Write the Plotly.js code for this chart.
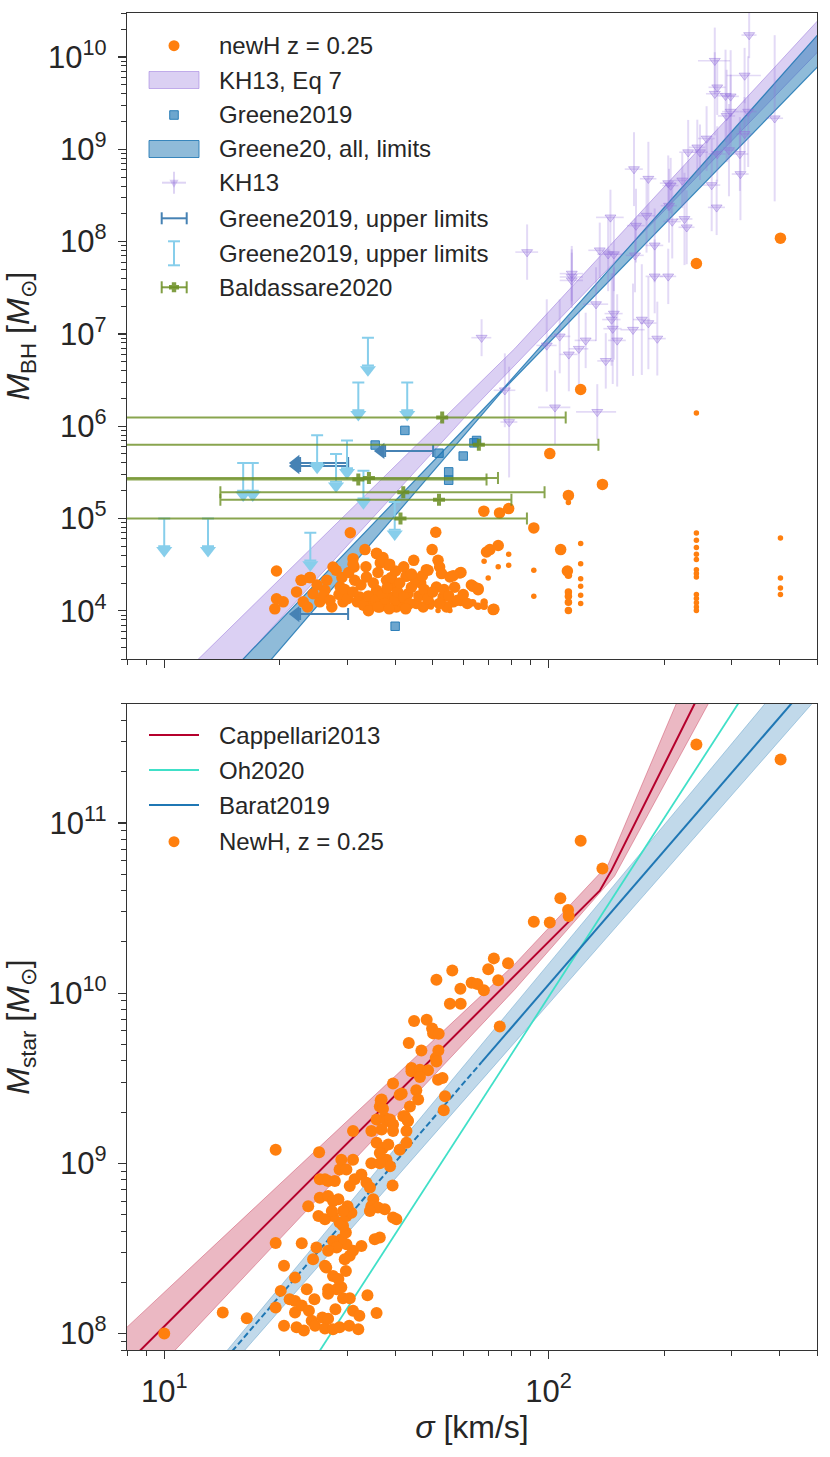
<!DOCTYPE html>
<html><head><meta charset="utf-8">
<script src="https://cdn.plot.ly/plotly-3.0.1.min.js"></script>
<style>body{margin:0;background:#fff}#chart{width:830px;height:1457px}</style>
</head><body><div id="chart"></div>
<script>
// ---------------- TOP PANEL DATA ----------------
const kh7_up_sigma = [10, 81.7, 520];
const kh7_up_M     = [1.3e3, 6.93e6, 2.9e10];
const kh7_lo_sigma = [14, 62.4, 520];
const kh7_lo_M     = [1.6e3, 1.43e6, 1.32e10];
const g20_up_sigma = [14, 76.9, 520];
const g20_up_M     = [1.66e3, 2.66e6, 2.05e10];
const g20_lo_sigma = [17, 76.9, 520];
const g20_lo_M     = [1.74e3, 2.57e6, 9.14e9];

const kh13_sigma = [333,271,324,275,271,289,298,298,291,331, 388,324,258,244,248,231,275,315,295,316,
  266,274,223,205,208,182,167,206,210,226, 229,145,180,169,136,115,88,189,189,205,
  143,148,168,115,115,67,133,148,146,147, 175,182,166,151,192,107,99,125,120,113, 141,77,104,134,79];
const kh13_M = [1.73e10,9.1e9,6.3e9,4.7e9,4.0e9,3.8e9,3.75e9,2.56e9,2.3e9,2.56e9,
  2.17e9,1.47e9,1.31e9,1.05e9,9.3e8,9.3e8,8.9e8,8.9e8,9.8e8,5.4e8,
  4.1e8,2.35e8,4.6e8,4.3e8,4.05e8,4.8e8,6.1e8,2.45e8,1.65e8,1.76e8,
  1.43e8,1.83e8,1.91e8,1.49e8,8.05e7,4.14e7,7.7e7,9.1e7,4.2e7,4.2e7,
  7.3e7,7.3e7,7.1e7,4.5e7,3.8e7,9.1e6,2.1e7,1.66e7,1.43e7,1.14e7,
  1.43e7,1.31e7,1.11e7,8.5e6,8.9e6,9.4e6,7.5e6,8.5e6,6.9e6,6.0e6,
  5.1e6,2.45e6,1.6e6,1.43e6,1.11e6];
const kh13_dex = [0.25,0.36,0.3,0.3,0.45,0.5,0.5,0.4,0.5,0.6, 0.9,0.4,0.35,0.3,0.3,0.35,0.3,0.4,0.5,0.5,
  0.5,0.3,0.3,0.3,0.3,0.4,0.4,0.4,0.4,0.5, 0.4,0.3,0.4,0.4,0.3,0.3,0.3,0.4,0.4,0.3,
  0.4,0.4,0.4,0.3,0.3,0.2,0.4,0.5,0.5,0.6, 0.6,0.5,0.5,0.5,0.4,0.4,0.5,0.3,0.4,0.4, 0.3,0.4,0.4,0.3,0.6];
const kh13_sigErr = [15,26,33,14,14,15,15,15,15,17, 20,16,13,12,12,12,14,16,15,16,
  14,14,11,10,10,9,9,10,11,11, 11,12,9,9,9,8,6,10,10,10,
  9,8,9,8,8,4,10,8,8,8, 9,9,12,8,10,7,6,8,7,6, 7,5,10,16,4];

const newH_big_sigma = [19.6,19.4,19.6,20.4,22.1,22.8,24.0,23.0,23.6,24.4,
  25.4,26.5,26.2,27.5,28.0,27.3,28.7,29.2,30.5,31.0,
  31.2,31.3,32.3,33.3,33.6,34.6,35.7,35.7,36.4,37.1,
  37.9,38.3,38.6,39.4,40.2,41.5,42.6,43.1,44.6,45.3,
  46.5,48.1,49.1,49.8,50.9,51.1,51.6,52.1,52.7,53.2,
  55.4,58.8,63.7,65.6,67.9,74.6,78.8,91.6,69.0,70.4,
  74.0,107.6,71.8,56.5,54.3,47.2,
  25.0,26.0,27.0,28.5,29.5,30.0,31.0,31.8,32.5,33.0,
  34.0,35.0,35.5,36.0,37.0,37.5,38.0,39.0,39.8,40.5,
  41.0,42.0,43.5,44.0,45.0,46.0,47.5,48.5,50.0,52.0,
  53.5,55.0,57.0,58.0,60.0,61.5,33.5,36.5,40.0,42.0,
  29.0,30.2,44.0,47.0,34.0,38.5,42.5,36.0,
  31.0,35.7,37.1,38.6,48.6,59.2,56.5,63.0,65.6,22.7,23.9,
  121.3,100.8,138.2,112.7,112.0,72.1,242.7,401.6];
const newH_big_M = [2.7e4,1.05e4,1.35e4,1.25e4,1.6e4,2.14e4,2.29e4,1.25e4,1.1e4,1.53e4,
  1.25e4,2.14e4,1.67e4,2.98e4,2.75e4,1.1e4,1.81e4,1.25e4,7.0e4,3.67e4,
  2.98e4,2.14e4,1.41e4,4.6e4,2.32e4,1.2e4,4.16e4,1.67e4,1.1e4,3.77e4,
  2.14e4,3.11e4,1.41e4,1.89e4,1.1e4,1.25e4,2.36e4,1.53e4,3.52e4,1.2e4,
  2.0e4,2.79e4,1.2e4,4.6e4,7.1e4,1.81e4,3.52e4,2.98e4,2.53e4,1.41e4,
  2.32e4,2.57e4,1.84e4,1.69e4,1.2e5,1.15e5,1.28e5,7.9e4,4.34e4,4.6e4,
  5.1e4,4.6e4,1.03e4,1.25e4,1.1e4,1.1e4,
  1.9e4,1.45e4,1.3e4,1.5e4,1.7e4,1.35e4,1.6e4,1.25e4,1.9e4,1.15e4,
  1.45e4,2.0e4,1.3e4,2.6e4,1.5e4,1.2e4,1.75e4,2.3e4,1.3e4,1.6e4,
  2.0e4,1.4e4,1.2e4,1.8e4,2.2e4,1.45e4,1.7e4,1.35e4,1.6e4,1.2e4,
  1.7e4,1.45e4,1.8e4,1.3e4,1.5e4,1.2e4,3.0e4,3.3e4,2.7e4,3.0e4,
  2.3e4,2.6e4,2.5e4,2.4e4,1.0e4,1.05e4,1.05e4,1.1e4,
  3.2e4,4.2e4,3.5e4,3.2e4,2.75e4,2.6e4,2.4e4,1.9e4,1.74e4,2.14e4,2.29e4,
  2.5e6,5.05e5,2.34e5,1.78e5,2.7e4,1.04e4,5.8e7,1.09e8];
const newH_mid_sigma = [112.7,112.7,112.7,112.7,112.7,63.5,65.6,68.0,68.0];
const newH_mid_M     = [2.43e4,1.6e4,1.44e4,1.24e4,1.01e4,1.22e4,1.12e4,1.24e4,1.12e4];
const newH_small_sigma = [112.7,242.7,78.8,78.8,74.0,69.7,91.6,91.6,59.1,59.1,
  63.0,64.9,68.0,55.4,51.6,49.5,45.8,43.5,68.0,
  121.3,121.3,121.3,121.3,121.3,121.3,
  242.7,242.7,242.7,242.7,242.7,242.7,242.7,242.7,242.7,242.7,242.7,242.7,242.7,
  401.6,401.6,401.6,401.6];
const newH_small_M = [1.49e5,1.39e6,4.1e4,3.11e4,3.0e4,2.27e4,2.75e4,1.44e4,1.44e4,1.2e4,
  1.2e4,1.15e4,1.27e4,1.01e4,1.01e4,1.1e4,1.15e4,1.1e4,3.44e4,
  5.35e4,3.24e4,2.23e4,1.84e4,1.47e4,1.2e4,
  6.97e4,5.8e4,4.84e4,4.09e4,3.59e4,2.79e4,2.53e4,2.32e4,1.5e4,1.36e4,1.22e4,1.1e4,1.01e4,
  6.15e4,2.26e4,1.77e4,1.5e4];

const g19_sigma = [42.3,35.4,51.9,64,65,60,55,55,39.9];
const g19_M     = [9.0e5,6.25e5,5.1e5,6.6e5,7.0e5,4.75e5,3.2e5,2.6e5,6.8e3];
const g19h_sigma = [30.1,30.1,50.1,30.1];      // upper limits on sigma (cap position)
const g19h_M     = [4.0e5,3.7e5,5.4e5,9.2e3];
const g19v_sigma = [33.9,32.0,42.9,25.0,29.9,28.0,33.0,16.05,17.0,10.0,13.0,39.8,24.0];
const g19v_M     = [9.1e6,2.97e6,2.97e6,8.0e5,7.0e5,5.0e5,3.3e5,4.0e5,4.0e5,1.0e5,1.0e5,1.51e5,7.0e4];

const bald_sigma = [52.9,65.9,32.0,34.1,41.9,51.9,41.2];
const bald_M     = [1.24e6,6.3e5,2.64e5,2.75e5,1.92e5,1.6e5,1.0e5];
const bald_errLo = [60,70,40,40,27.9,37.9,45];
const bald_errHi = [58,69,37,39.8,55.8,28.2,46.7];

// ---------------- BOTTOM PANEL DATA ----------------
const capp_sigma = [8, 136, 146, 239, 247.5];
const capp_M     = [6.65e7, 4.0e10, 5.28e10, 4.9e11, 5.75e11];
const capp_up_sigma = [8, 81.7, 143, 240];
const capp_up_M     = [1.09e8, 1.48e10, 5.7e10, 9.0e11];
const capp_lo_sigma = [8, 81.7, 148.6, 290];
const capp_lo_M     = [4.0e7, 1.05e10, 4.87e10, 7.8e11];
const oh_sigma = [24, 320];
const oh_M     = [6.5e7, 5.5e11];
const barat_dash_sigma  = [14, 67];
const barat_dash_M      = [6.55e7, 3.93e9];
const barat_solid_sigma = [67, 500];
const barat_solid_M     = [3.93e9, 7.5e11];
const barat_up_sigma = [14, 500];
const barat_up_M     = [7.13e7, 1.17e12];
const barat_lo_sigma = [14, 500];
const barat_lo_M     = [5.48e7, 5.42e11];

const bot_sigma = [10.0,14.2,16.4,19.5,25.3,19.5,20.5,21.9,20.1,19.5,
  20.5,21.2,21.9,21.9,22.1,23.1,22.8,23.5,23.8,24.6,
  24.2,24.7,25.8,26.2,27.5,26.7,27.9,28.6,30.3,32.0,
  31.0,32.2,29.2,30.4,35.7,33.8,26.7,28.1,28.9,27.5,
  28.4,26.7,26.4,29.7,29.5,30.4,31.0,32.6,29.8,28.9,
  27.5,28.1,26.2,24.4,24.9,26.7,22.8,29.7,29.2,28.6,
  29.8,30.7,30.0,29.2,27.5,28.4,30.4,31.3,32.6,33.6,
  34.3,35.0,34.6,36.0,34.3,36.4,35.3,37.5,39.4,40.2,
  39.3,25.4,26.2,26.7,27.8,28.6,28.9,29.8,31.0,25.4,
  26.7,27.5,23.7,25.2,26.2,27.3,31.0,34.6,35.7,36.4,
  36.8,37.5,37.9,38.7,39.4,41.0,39.4,42.3,43.1,43.6,
  42.7,41.0,42.7,44.0,37.9,38.7,39.4,36.8,35.7,37.1,
  34.6,36.4,38.3,36.4,72.1,78.5,56.2,69.7,51.1,63.1,
  65.3,67.9,74.0,59.0,55.4,59.1,44.7,48.2,49.8,50.1,
  51.8,43.3,46.7,51.7,50.9,51.1,44.0,46.3,48.6,46.3,
  51.6,53.0,41.5,45.3,45.8,36.6,37.1,53.8,41.9,43.0,
  53.4,74.7,242.7,402,121.3,138.2,107.4,112.5,112.9,91.6,100.8];
const bot_M = [1.0e8,1.33e8,1.23e8,1.2e9,1.16e9,3.4e8,2.5e8,2.13e8,1.78e8,1.42e8,
  1.11e8,1.59e8,1.55e8,1.33e8,1.09e8,1.04e8,1.46e8,1.82e8,1.36e8,1.59e8,
  1.19e8,1.11e8,1.24e8,1.07e8,1.06e8,1.22e8,1.39e8,1.09e8,1.11e8,1.06e8,
  1.36e8,1.27e8,1.61e8,1.61e8,1.32e8,1.68e8,1.82e8,1.82e8,1.87e8,2.18e8,
  2.09e8,1.71e8,2.44e8,2.33e8,2.73e8,2.86e8,3.06e8,3.27e8,3.35e8,3.58e8,
  3.5e8,3.2e8,2.5e8,2.73e8,3.2e8,3.06e8,3.39e8,3.92e8,4.29e8,4.49e8,
  4.91e8,5.13e8,5.6e8,5.25e8,4.91e8,6.14e8,7.35e8,8.05e8,8.6e8,7.7e8,
  7.2e8,6.14e8,5.6e8,5.5e8,5.25e8,3.66e8,3.58e8,5.37e8,4.8e8,4.69e8,
  7.4e8,8.05e8,8.05e8,7.87e8,7.87e8,9.2e8,1.05e9,9.2e8,1.05e9,6.28e8,
  6.43e8,6.0e8,5.6e8,4.91e8,4.69e8,5.25e8,1.55e9,1.55e9,1.81e9,2.16e9,
  2.37e9,1.85e9,1.77e9,1.81e9,1.69e9,2.53e9,2.94e9,1.89e9,1.77e9,2.16e9,
  1.55e9,1.2e9,1.32e9,3.63e9,1.05e9,9.6e8,1.55e9,1.58e9,1.32e9,1.23e9,
  1.0e9,1.0e9,1.29e9,1.15e9,1.6e10,1.5e10,1.36e10,1.38e10,1.2e10,1.15e10,
  1.13e10,1.04e10,1.19e10,1.06e10,8.65e9,8.65e9,6.85e9,6.97e9,6.2e9,5.8e9,
  5.77e9,5.1e9,4.6e9,4.6e9,4.16e9,3.97e9,3.47e9,3.55e9,3.52e9,3.21e9,
  3.1e9,3.17e9,2.57e9,2.69e9,2.37e9,2.35e9,2.09e9,2.48e9,1.89e9,1.79e9,
  2.05e9,6.37e9,2.89e11,2.36e11,7.85e10,5.4e10,3.61e10,3.08e10,2.84e10,2.63e10,2.6e10];

// tick labels
const xTickVals = [10, 100];
const xTickText = ['10<sup>1</sup>', '10<sup>2</sup>'];
const yTopTickVals = [1e4,1e5,1e6,1e7,1e8,1e9,1e10];
const yTopTickText = ['10<sup>4</sup>','10<sup>5</sup>','10<sup>6</sup>','10<sup>7</sup>','10<sup>8</sup>','10<sup>9</sup>','10<sup>10</sup>'];
const yBotTickVals = [1e8,1e9,1e10,1e11];
const yBotTickText = ['10<sup>8</sup>','10<sup>9</sup>','10<sup>10</sup>','10<sup>11</sup>'];

// ---------------- BUILD ----------------
function minorVals(lo, hi){ const v=[]; for(let d=-1; d<13; d++){ for(let m=2;m<10;m++){ const x=m*Math.pow(10,d); if(x>=lo && x<=hi) v.push(x);} } return v; }
function band(us, uM, ls, lM){ return {x: us.concat(ls.slice().reverse()), y: uM.concat(lM.slice().reverse())}; }

const ORANGE = '#ff7f0e';
const LAV = 'rgba(147,112,219,';
const traces = [];
const b1 = band(kh7_up_sigma, kh7_up_M, kh7_lo_sigma, kh7_lo_M);
traces.push({x:b1.x, y:b1.y, xaxis:'x', yaxis:'y', mode:'lines', fill:'toself', fillcolor:LAV+'0.33)', line:{color:LAV+'0.5)', width:1}, hoverinfo:'skip'});
const b2 = band(g20_up_sigma, g20_up_M, g20_lo_sigma, g20_lo_M);
traces.push({x:b2.x, y:b2.y, xaxis:'x', yaxis:'y', mode:'lines', fill:'toself', fillcolor:'rgba(31,119,180,0.5)', line:{color:'rgba(31,119,180,0.85)', width:1.2}, hoverinfo:'skip'});
traces.push({x:kh13_sigma, y:kh13_M, xaxis:'x', yaxis:'y', mode:'markers',
  marker:{symbol:'triangle-down', size:9.5, color:LAV+'0.28)', line:{color:LAV+'0.45)', width:1}},
  error_y:{type:'data', symmetric:false, array:kh13_M.map((m,i)=>m*(Math.pow(10,kh13_dex[i])-1)), arrayminus:kh13_M.map((m,i)=>m*(1-Math.pow(10,-kh13_dex[i]))), color:LAV+'0.26)', thickness:2, width:0},
  error_x:{type:'data', array:kh13_sigErr, color:LAV+'0.26)', thickness:1.6, width:0}});
traces.push({x:newH_small_sigma, y:newH_small_M, xaxis:'x', yaxis:'y', mode:'markers', marker:{size:5.5, color:ORANGE}});
traces.push({x:newH_mid_sigma, y:newH_mid_M, xaxis:'x', yaxis:'y', mode:'markers', marker:{size:7.5, color:ORANGE}});
traces.push({x:newH_big_sigma, y:newH_big_M, xaxis:'x', yaxis:'y', mode:'markers', marker:{size:11.5, color:ORANGE}});
traces.push({x:g19_sigma, y:g19_M, xaxis:'x', yaxis:'y', mode:'markers', marker:{symbol:'square', size:8.5, color:'rgba(31,119,180,0.65)', line:{color:'rgba(31,119,180,0.9)', width:1}}});
// horizontal upper limits
traces.push({x:g19h_sigma, y:g19h_M, xaxis:'x', yaxis:'y', mode:'markers', marker:{size:1, color:'rgba(0,0,0,0)'},
  error_x:{type:'data', symmetric:false, array:g19h_sigma.map(()=>0), arrayminus:g19h_sigma.map(s=>0.25*s), color:'#4682b4', thickness:2, width:6}});
traces.push({x:g19h_sigma.map(s=>0.75*s*0.975), y:g19h_M, xaxis:'x', yaxis:'y', mode:'markers', marker:{symbol:'triangle-left', size:14, color:'#4682b4'}});
// vertical upper limits
traces.push({x:g19v_sigma, y:g19v_M, xaxis:'x', yaxis:'y', mode:'markers', marker:{size:1, color:'rgba(0,0,0,0)'},
  error_y:{type:'data', symmetric:false, array:g19v_M.map(()=>0), arrayminus:g19v_M.map(m=>0.5*m), color:'#87ceeb', thickness:2, width:6}});
traces.push({x:g19v_sigma, y:g19v_M.map(m=>0.5*m*0.9), xaxis:'x', yaxis:'y', mode:'markers', marker:{symbol:'triangle-down', size:14, color:'#87ceeb'}});
// Baldassare
traces.push({x:bald_sigma, y:bald_M, xaxis:'x', yaxis:'y', mode:'markers', marker:{symbol:'cross', size:10, color:'rgba(107,142,35,0.85)'},
  error_x:{type:'data', symmetric:false, array:bald_errHi, arrayminus:bald_errLo, color:'rgba(107,142,35,0.8)', thickness:2, width:6}});

// bottom
const b3 = band(capp_up_sigma, capp_up_M, capp_lo_sigma, capp_lo_M);
traces.push({x:b3.x, y:b3.y, xaxis:'x2', yaxis:'y2', mode:'lines', fill:'toself', fillcolor:'rgba(190,20,55,0.3)', line:{color:'rgba(190,20,55,0.35)', width:1}});
const b4 = band(barat_up_sigma, barat_up_M, barat_lo_sigma, barat_lo_M);
traces.push({x:b4.x, y:b4.y, xaxis:'x2', yaxis:'y2', mode:'lines', fill:'toself', fillcolor:'rgba(31,119,180,0.28)', line:{color:'rgba(31,119,180,0.3)', width:1}});
traces.push({x:oh_sigma, y:oh_M, xaxis:'x2', yaxis:'y2', mode:'lines', line:{color:'#40e0c8', width:1.8}});
traces.push({x:capp_sigma, y:capp_M, xaxis:'x2', yaxis:'y2', mode:'lines', line:{color:'#b5002c', width:2}});
traces.push({x:barat_dash_sigma, y:barat_dash_M, xaxis:'x2', yaxis:'y2', mode:'lines', line:{color:'#1f77b4', width:2, dash:'6px,3px'}});
traces.push({x:barat_solid_sigma, y:barat_solid_M, xaxis:'x2', yaxis:'y2', mode:'lines', line:{color:'#1f77b4', width:2}});
traces.push({x:bot_sigma, y:bot_M, xaxis:'x2', yaxis:'y2', mode:'markers', marker:{size:12, color:ORANGE}});

// ---------------- LEGENDS (paper coords) ----------------
const PX = p => (p - 127) / 690;
const PY = p => (1350 - p) / 1337;
const shapes = [], annotations = [];
function seg(x0,y0,x1,y1,color,w){ shapes.push({type:'line', xref:'paper', yref:'paper', x0:PX(x0), y0:PY(y0), x1:PX(x1), y1:PY(y1), line:{color:color, width:w}}); }
function rect(x0,y0,x1,y1,fill,lc,lw){ shapes.push({type:'rect', xref:'paper', yref:'paper', x0:PX(x0), y0:PY(y1), x1:PX(x1), y1:PY(y0), fillcolor:fill, line:{color:lc, width:lw}}); }
function circ(cx,cy,r,fill){ shapes.push({type:'circle', xref:'paper', yref:'paper', x0:PX(cx-r), x1:PX(cx+r), y0:PY(cy+r), y1:PY(cy-r), fillcolor:fill, line:{width:0}}); }
function poly(pts,fill){ shapes.push({type:'path', xref:'paper', yref:'paper', path:'M'+pts.map(p=>PX(p[0])+','+PY(p[1])).join('L')+'Z', fillcolor:fill, line:{width:0}}); }
function label(y,text){ annotations.push({xref:'paper', yref:'paper', x:PX(217), y:PY(y), xanchor:'left', yanchor:'middle', text:text, showarrow:false, font:{size:24, color:'#262626'}}); }

const topRows = [45.7, 80, 115, 149, 182.7, 218.3, 253.3, 287.3];
const topLabels = ['newH z = 0.25','KH13, Eq 7','Greene2019','Greene20, all, limits','KH13','Greene2019, upper limits','Greene2019, upper limits','Baldassare2020'];
topRows.forEach((y,i)=>label(y, topLabels[i]));
const cx = 174;
circ(cx, topRows[0], 5.5, ORANGE);
rect(149, topRows[1]-8.5, 199, topRows[1]+8.5, LAV+'0.33)', LAV+'0.5)', 1);
rect(cx-4.3, topRows[2]-4.3, cx+4.3, topRows[2]+4.3, 'rgba(31,119,180,0.65)', 'rgba(31,119,180,0.9)', 1);
rect(149, topRows[3]-8.5, 199, topRows[3]+8.5, 'rgba(31,119,180,0.5)', 'rgba(31,119,180,0.85)', 1);
seg(162, topRows[4], 186, topRows[4], LAV+'0.3)', 2);
seg(cx, topRows[4]-11, cx, topRows[4]+11, LAV+'0.3)', 2);
poly([[cx-4.6, topRows[4]-3], [cx+4.6, topRows[4]-3], [cx, topRows[4]+5]], LAV+'0.35)');
seg(161.7, topRows[5], 186.7, topRows[5], '#4682b4', 2);
seg(161.7, topRows[5]-6, 161.7, topRows[5]+6, '#4682b4', 2);
seg(186.7, topRows[5]-6, 186.7, topRows[5]+6, '#4682b4', 2);
seg(cx, topRows[6]-12, cx, topRows[6]+12, '#87ceeb', 2);
seg(cx-6, topRows[6]-12, cx+6, topRows[6]-12, '#87ceeb', 2);
seg(cx-6, topRows[6]+12, cx+6, topRows[6]+12, '#87ceeb', 2);
const OL = 'rgba(107,142,35,0.85)';
seg(161.7, topRows[7], 186.7, topRows[7], OL, 2);
seg(161.7, topRows[7]-6, 161.7, topRows[7]+6, OL, 2);
seg(186.7, topRows[7]-6, 186.7, topRows[7]+6, OL, 2);
{ const y=topRows[7], a=5, t=2.2;
  poly([[cx-t,y-a],[cx+t,y-a],[cx+t,y-t],[cx+a,y-t],[cx+a,y+t],[cx+t,y+t],[cx+t,y+a],[cx-t,y+a],[cx-t,y+t],[cx-a,y+t],[cx-a,y-t],[cx-t,y-t]], OL); }

const botRows = [735, 770, 805, 841.7];
const botLabels = ['Cappellari2013','Oh2020','Barat2019','NewH, z = 0.25'];
botRows.forEach((y,i)=>label(y, botLabels[i]));
seg(149, botRows[0], 199, botRows[0], '#b5002c', 2);
seg(149, botRows[1], 199, botRows[1], '#40e0c8', 2);
seg(149, botRows[2], 199, botRows[2], '#1f77b4', 2);
circ(cx, botRows[3], 5.5, ORANGE);

// ---------------- AXES ----------------
const TICKFONT = {size:31, color:'#262626'};
const common = {type:'log', showgrid:false, zeroline:false, showline:true, linecolor:'#333', linewidth:1.3, mirror:true,
  ticks:'outside', ticklen:8, tickwidth:1.2, tickcolor:'#333', tickfont:TICKFONT, tickmode:'array'};
const xMinor = {ticks:'outside', ticklen:4.5, tickwidth:1, tickcolor:'#333', tickmode:'array', tickvals:minorVals(8,500)};
const xr = [Math.log10(8), Math.log10(500)];
const layout = {
  width:830, height:1457, margin:{l:127, r:13, t:13, b:107}, showlegend:false,
  paper_bgcolor:'#fff', plot_bgcolor:'#fff',
  font:{family:'Liberation Sans, Arial, Helvetica, sans-serif', color:'#262626'},
  xaxis: Object.assign({}, common, {domain:[0,1], anchor:'y', range:xr, tickvals:xTickVals, ticktext:xTickText, showticklabels:false, minor:xMinor}),
  yaxis: Object.assign({}, common, {domain:[0.5168,1], anchor:'x', range:[Math.log10(3e3), Math.log10(3e10)], tickvals:yTopTickVals, ticktext:yTopTickText, ticklabelstandoff:5,
    minor:{ticks:'outside', ticklen:4.5, tickwidth:1, tickcolor:'#333', tickmode:'array', tickvals:minorVals(3e3,3e10)},
    title:{text:'<i>M</i><sub>BH</sub> [<i>M</i><sub>⊙</sub>]', font:{size:32, color:'#262626'}, standoff:10}}),
  xaxis2: Object.assign({}, common, {domain:[0,1], anchor:'y2', range:xr, matches:'x', tickvals:xTickVals, ticktext:xTickText, minor:xMinor, ticklabelstandoff:5,
    title:{text:'<i>σ</i> [km/s]', font:{size:32, color:'#262626'}, standoff:8}}),
  yaxis2: Object.assign({}, common, {domain:[0,0.4832], anchor:'x2', range:[Math.log10(8e7), Math.log10(5e11)], tickvals:yBotTickVals, ticktext:yBotTickText, ticklabelstandoff:5,
    minor:{ticks:'outside', ticklen:4.5, tickwidth:1, tickcolor:'#333', tickmode:'array', tickvals:minorVals(8e7,5e11)},
    title:{text:'<i>M</i><sub>star</sub> [<i>M</i><sub>⊙</sub>]', font:{size:32, color:'#262626'}, standoff:10}}),
  shapes:shapes, annotations:annotations
};
Plotly.newPlot('chart', traces, layout, {displayModeBar:false, staticPlot:true});
</script></body></html>
